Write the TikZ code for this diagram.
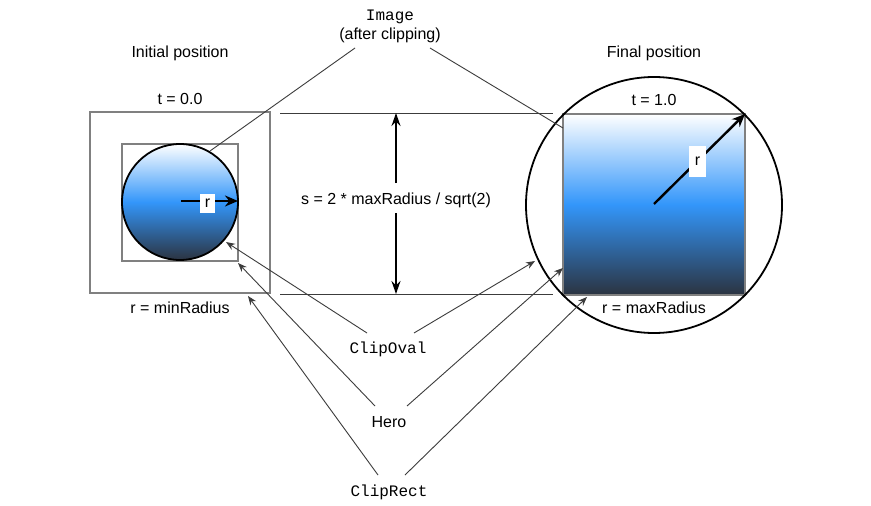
\documentclass[tikz,border=0pt]{standalone}
\usepackage{fontspec}
\setmainfont{Liberation Sans}
\setmonofont{Liberation Mono}
\usetikzlibrary{arrows.meta}
\definecolor{sqgray}{HTML}{808080}
\definecolor{lnk}{HTML}{3C3C3C}
\definecolor{gtop}{HTML}{FFFFFF}
\definecolor{gmid}{HTML}{3396FA}
\definecolor{gbot}{HTML}{2B3340}
\begin{document}
\begin{tikzpicture}[x=1pt,y=-1pt,
  lbl/.style={font=\fontsize{16}{18}\selectfont, inner sep=0pt, anchor=base},
  code/.style={font=\ttfamily\fontsize{16}{18}\selectfont, inner sep=0pt, anchor=base},
  frame/.style={draw=sqgray, line width=1.7pt, rectangle, inner sep=0pt, outer sep=0pt},
  grad/.style={top color=gtop, bottom color=gbot, middle color=gmid},
  link/.style={draw=lnk, line width=0.9pt},
  linkarrow/.style={link, -{Stealth[length=9pt,width=7pt]}},
  guide/.style={draw=lnk, line width=0.9pt},
  bigarrow/.style={draw=black, line width=1.8pt, -{Stealth[length=13pt,width=9pt]}},
  rarrow/.style={draw=black, line width=2.4pt, -{Stealth[length=13pt,width=11pt]}},
  rbox/.style={fill=white, font=\fontsize{16}{18}\selectfont, inner sep=0pt}
]
\useasboundingbox[fill=white] (0,0) rectangle (871,506);

% ---------- left (initial) ----------
\node[frame, minimum width=180pt, minimum height=181pt] (outerL) at (180,202.5) {};
\node[frame, minimum width=116pt, minimum height=117pt] (innerL) at (180,202.5) {};
\node[circle, draw=black, line width=1.8pt, grad, minimum size=116pt, inner sep=0pt, outer sep=0pt] (circL) at (180,202) {};

\coordinate (rLs) at (181,201);
\coordinate (rLe) at (238,201);
\draw[rarrow] (rLs) -- (rLe);
\node[rbox, minimum width=15pt, minimum height=19pt] (rL) at (207.5,203.5) {r};

\node[lbl] (initpos) at (180,57) {Initial position};
\node[lbl] (t0) at (180,104) {t = 0.0};
\node[lbl] (rmin) at (180,313) {r = minRadius};

% ---------- right (final) ----------
\node[frame, grad, minimum width=182pt, minimum height=181pt] (sqR) at (654,204.5) {};
\node[circle, draw=black, line width=1.8pt, minimum size=256pt, inner sep=0pt, outer sep=0pt] (circR) at (654,205) {};

\coordinate (rRs) at (654,204);
\coordinate (rRe) at (745,114);
\draw[rarrow] (rRs) -- (rRe);
\node[rbox, minimum width=17pt, minimum height=31pt] (rR) at (697.5,161.5) {r};

\node[lbl] (finpos) at (654,57) {Final position};
\node[lbl] (t1) at (654,105.5) {t = 1.0};
\node[lbl] (rmax) at (654,313) {r = maxRadius};

% ---------- middle guides ----------
\coordinate (gT1) at (280,113);
\coordinate (gT2) at (553,113);
\coordinate (gB1) at (280,294);
\coordinate (gB2) at (553,294);
\draw[guide] (gT1) -- (gT2);
\draw[guide] (gB1) -- (gB2);

\node[lbl] (slbl) at (396,204) {s = 2 * maxRadius / sqrt(2)};
\coordinate (sTop) at (396,113);
\coordinate (sBot) at (396,294);
\coordinate (sU) at (396,183);
\coordinate (sD) at (396,213);
\draw[bigarrow] (sU) -- (sTop);
\draw[bigarrow] (sD) -- (sBot);

% ---------- Image label ----------
\node[code] (imgA) at (390,20) {Image};
\node[lbl] (imgB) at (390,39) {(after clipping)};
\coordinate (imgL) at (355,48);
\coordinate (imgR) at (430,48);
\coordinate (imgLt) at (210,151);
\coordinate (imgRt) at (563,128);
\draw[link] (imgL) -- (imgLt);
\draw[link] (imgR) -- (imgRt);

% ---------- ClipOval ----------
\node[code] (clipoval) at (388,353) {ClipOval};
\coordinate (coL) at (367,333);
\coordinate (coR) at (414,333);
\coordinate (coLt) at (226,242);
\coordinate (coRt) at (535,261);
\draw[linkarrow] (coL) -- (coLt);
\draw[linkarrow] (coR) -- (coRt);

% ---------- Hero ----------
\node[lbl] (hero) at (389,427) {Hero};
\coordinate (heL) at (375,406);
\coordinate (heR) at (407,406);
\coordinate (heLt) at (238,263);
\coordinate (heRt) at (563,268);
\draw[linkarrow] (heL) -- (heLt);
\draw[linkarrow] (heR) -- (heRt);

% ---------- ClipRect ----------
\node[code] (cliprect) at (389,496) {ClipRect};
\coordinate (crL) at (378,475);
\coordinate (crR) at (405,475);
\coordinate (crLt) at (248,296);
\coordinate (crRt) at (587,297);
\draw[linkarrow] (crL) -- (crLt);
\draw[linkarrow] (crR) -- (crRt);
\end{tikzpicture}
\end{document}
